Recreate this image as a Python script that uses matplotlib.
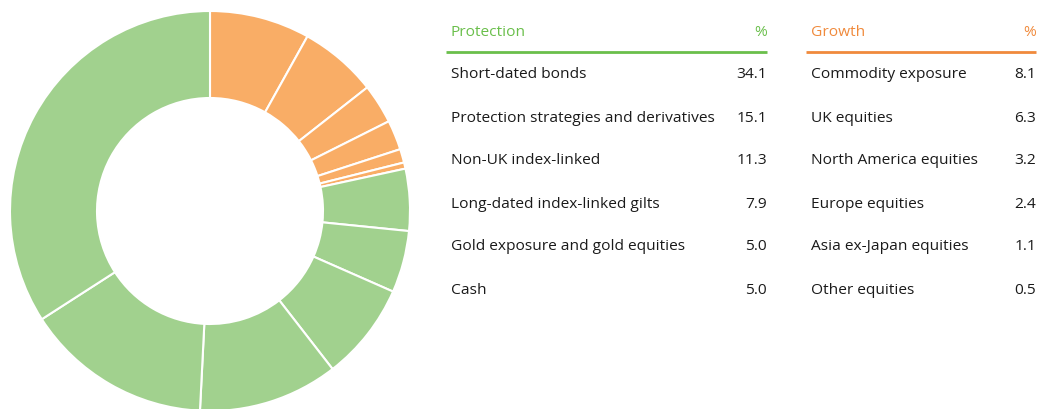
import matplotlib
matplotlib.use("Agg")
import matplotlib.pyplot as plt

# data
protection_labels = ["Short-dated bonds", "Protection strategies and derivatives",
                     "Non-UK index-linked", "Long-dated index-linked gilts",
                     "Gold exposure and gold equities", "Cash"]
protection_values = [34.1, 15.1, 11.3, 7.9, 5.0, 5.0]
growth_labels = ["Commodity exposure", "UK equities", "North America equities",
                 "Europe equities", "Asia ex-Japan equities", "Other equities"]
growth_values = [8.1, 6.3, 3.2, 2.4, 1.1, 0.5]

green = "#a1d18e"
orange = "#f9ad66"
green_dark = "#6abf4b"
orange_dark = "#f08a3c"

plt.rcParams['font.family'] = ['Open Sans', 'DejaVu Sans']

W, H = 1039, 409
fig = plt.figure(figsize=(W / 100, H / 100), dpi=100)
ax = fig.add_axes([0, 0, 1, 1])

# donut: growth first clockwise from top, then protection reversed
vals = growth_values + protection_values[::-1]
cols = [orange] * len(growth_values) + [green] * len(protection_values)
ax.pie(vals, colors=cols, startangle=90, counterclock=False,
       center=(210, H - 211), radius=200, frame=True,
       wedgeprops=dict(width=87, edgecolor='white', linewidth=1.5))
ax.set_xlim(0, W)
ax.set_ylim(0, H)
ax.set_aspect('equal')
ax.axis('off')

fs = 11.15
row_y = [75, 118, 161, 204, 247, 290]


def table(x0, x1, title, labels, values, tcol):
    ax.text(x0 + 5, H - 32, title, color=tcol, fontsize=fs, va='center', ha='left')
    ax.text(x1, H - 32, "%", color=tcol, fontsize=fs, va='center', ha='right')
    ax.plot([x0, x1], [H - 52, H - 52], color=tcol, lw=2, solid_capstyle='butt')
    for y, lab, v in zip(row_y, labels, values):
        ax.text(x0 + 5, H - y, lab, color='#1a1a1a', fontsize=fs, va='center', ha='left')
        ax.text(x1, H - y, f"{v:.1f}", color='#1a1a1a', fontsize=fs, va='center', ha='right')


table(446, 767, "Protection", protection_labels, protection_values, green_dark)
table(806, 1036, "Growth", growth_labels, growth_values, orange_dark)

fig.savefig("out.png", dpi=100)
